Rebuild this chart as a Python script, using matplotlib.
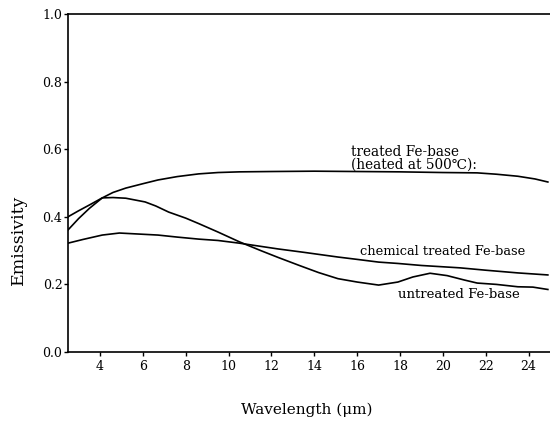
import matplotlib
matplotlib.use("Agg")
import matplotlib.pyplot as plt

plt.rcParams['font.family'] = ['DejaVu Serif']

# treated Fe-base (heated at 500 C)
wl_treated = [2.5, 3.0, 3.5, 4.1, 4.6, 5.2, 6.0, 6.7, 7.6, 8.6, 9.5, 10.5, 12.0, 14.0, 16.0, 18.0, 20.0, 21.6, 22.5, 23.5, 24.3, 24.9]
em_treated = [0.400, 0.418, 0.435, 0.456, 0.472, 0.485, 0.498, 0.509, 0.519, 0.527, 0.531, 0.533, 0.534, 0.535, 0.534, 0.533, 0.531, 0.530, 0.526, 0.520, 0.512, 0.503]

# untreated Fe-base
wl_untreated = [2.5, 3.0, 3.5, 4.1, 4.6, 5.2, 6.1, 6.6, 7.2, 8.0, 8.6, 9.5, 10.5, 11.5, 12.3, 13.3, 14.2, 15.1, 16.0, 17.0, 17.9, 18.6, 19.4, 20.2, 21.0, 21.6, 22.5, 23.5, 24.2, 24.9]
em_untreated = [0.361, 0.395, 0.425, 0.456, 0.457, 0.455, 0.444, 0.432, 0.414, 0.396, 0.380, 0.355, 0.326, 0.300, 0.280, 0.256, 0.235, 0.217, 0.207, 0.198, 0.207, 0.222, 0.233, 0.226, 0.213, 0.204, 0.200, 0.193, 0.192, 0.185]

# chemical treated Fe-base
wl_chemical = [2.5, 3.2, 4.1, 4.9, 5.8, 6.7, 7.6, 8.6, 9.5, 10.5, 12.3, 13.5, 15.1, 16.0, 17.0, 17.9, 19.0, 20.8, 22.0, 23.5, 24.9]
em_chemical = [0.322, 0.333, 0.346, 0.352, 0.349, 0.346, 0.340, 0.334, 0.330, 0.322, 0.305, 0.295, 0.281, 0.274, 0.266, 0.262, 0.256, 0.249, 0.242, 0.234, 0.228]

x_ticks = [4, 6, 8, 10, 12, 14, 16, 18, 20, 22, 24]
y_ticks = [0.0, 0.2, 0.4, 0.6, 0.8, 1.0]

fig = plt.figure(figsize=(5.5, 4.26), dpi=100)
ax = fig.add_axes([0.1236, 0.1737, 0.8764, 0.7934])

for wl, em in [(wl_treated, em_treated), (wl_untreated, em_untreated), (wl_chemical, em_chemical)]:
    ax.plot(wl, em, color='black', lw=1.2)

ax.set_xlim(2.5, 25)
ax.set_ylim(0, 1.0)
ax.set_xticks(x_ticks)
ax.set_yticks(y_ticks)
ax.set_yticklabels([f"{v:.1f}" for v in y_ticks])
ax.tick_params(axis='x', direction='out', length=3, width=1, labelsize=9, pad=3)
ax.tick_params(axis='y', direction='out', length=3, width=1, labelsize=9, pad=1)

ax.spines['right'].set_visible(False)
for s in ['left', 'bottom', 'top']:
    ax.spines[s].set_linewidth(1.2)

# curve labels
ax.text(15.72, 0.573, "treated Fe-base\n(heated at 500\u2103):", ha='left', va='center',
        multialignment='left', linespacing=0.95, fontsize=9.8)
ax.text(16.14, 0.296, "chemical treated Fe-base", ha='left', va='center', fontsize=9.4)
ax.text(17.9, 0.169, "untreated Fe-base", ha='left', va='center', fontsize=9.5)

fig.text(0.558, 0.038, "Wavelength (\u03bcm)", ha='center', va='center', fontsize=11)
fig.text(0.033, 0.437, "Emissivity", ha='center', va='center', rotation=90, fontsize=12.5)

fig.savefig("out.png", dpi=100)
